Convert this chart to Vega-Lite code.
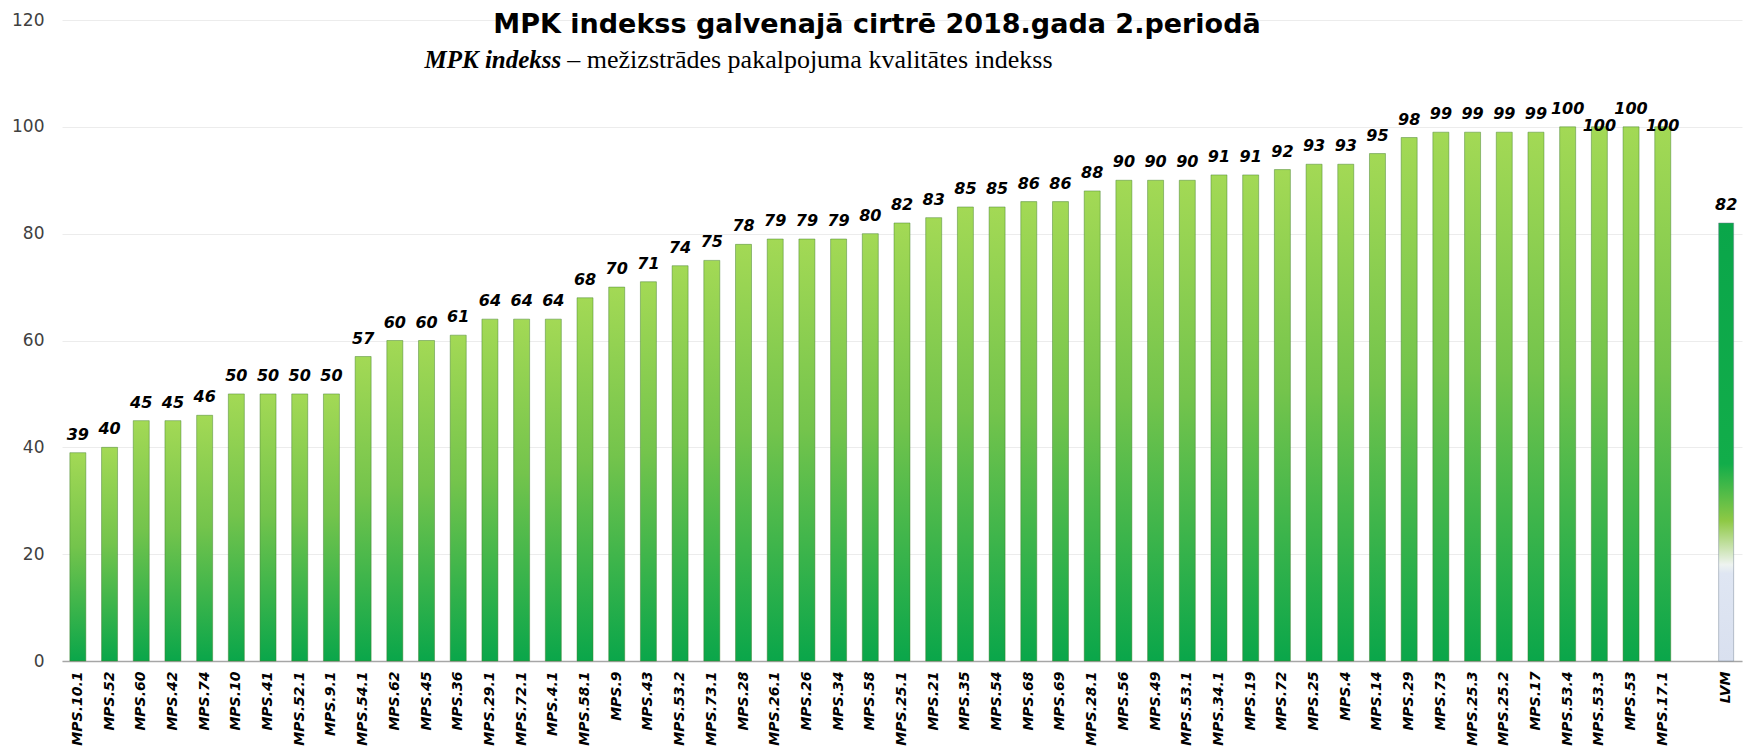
{
  "$schema": "https://vega.github.io/schema/vega-lite/v6.json",
  "width": 1680,
  "height": 641,
  "autosize": {"type": "none"},
  "padding": {"left": 62, "top": 20, "right": 2, "bottom": 89},
  "background": "#ffffff",
  "title": {
    "text": "MPK indekss galvenajā cirtrē 2018.gada 2.periodā",
    "font": "DejaVu Sans",
    "fontSize": 27,
    "fontWeight": "bold",
    "color": "#000000",
    "anchor": "middle",
    "dx": -25,
    "offset": -28
  },
  "config": {
    "view": {"stroke": null}
  },
  "data": {
    "values": [
      {"name": "MPS.10.1", "value": 39},
      {"name": "MPS.52", "value": 40},
      {"name": "MPS.60", "value": 45},
      {"name": "MPS.42", "value": 45},
      {"name": "MPS.74", "value": 46},
      {"name": "MPS.10", "value": 50},
      {"name": "MPS.41", "value": 50},
      {"name": "MPS.52.1", "value": 50},
      {"name": "MPS.9.1", "value": 50},
      {"name": "MPS.54.1", "value": 57},
      {"name": "MPS.62", "value": 60},
      {"name": "MPS.45", "value": 60},
      {"name": "MPS.36", "value": 61},
      {"name": "MPS.29.1", "value": 64},
      {"name": "MPS.72.1", "value": 64},
      {"name": "MPS.4.1", "value": 64},
      {"name": "MPS.58.1", "value": 68},
      {"name": "MPS.9", "value": 70},
      {"name": "MPS.43", "value": 71},
      {"name": "MPS.53.2", "value": 74},
      {"name": "MPS.73.1", "value": 75},
      {"name": "MPS.28", "value": 78},
      {"name": "MPS.26.1", "value": 79},
      {"name": "MPS.26", "value": 79},
      {"name": "MPS.34", "value": 79},
      {"name": "MPS.58", "value": 80},
      {"name": "MPS.25.1", "value": 82},
      {"name": "MPS.21", "value": 83},
      {"name": "MPS.35", "value": 85},
      {"name": "MPS.54", "value": 85},
      {"name": "MPS.68", "value": 86},
      {"name": "MPS.69", "value": 86},
      {"name": "MPS.28.1", "value": 88},
      {"name": "MPS.56", "value": 90},
      {"name": "MPS.49", "value": 90},
      {"name": "MPS.53.1", "value": 90},
      {"name": "MPS.34.1", "value": 91},
      {"name": "MPS.19", "value": 91},
      {"name": "MPS.72", "value": 92},
      {"name": "MPS.25", "value": 93},
      {"name": "MPS.4", "value": 93},
      {"name": "MPS.14", "value": 95},
      {"name": "MPS.29", "value": 98},
      {"name": "MPS.73", "value": 99},
      {"name": "MPS.25.3", "value": 99},
      {"name": "MPS.25.2", "value": 99},
      {"name": "MPS.17", "value": 99},
      {"name": "MPS.53.4", "value": 100},
      {"name": "MPS.53.3", "value": 100},
      {"name": "MPS.53", "value": 100},
      {"name": "MPS.17.1", "value": 100},
      {"name": " ", "value": null},
      {"name": "LVM", "value": 82}
    ]
  },
  "layer": [
    {
      "transform": [{"filter": "datum.name !== 'LVM'"}],
      "mark": {
        "type": "bar",
        "width": 16,
        "stroke": "#3f7d2a",
        "strokeOpacity": 0.45,
        "strokeWidth": 1,
        "color": {
          "gradient": "linear",
          "x1": 0, "y1": 0, "x2": 0, "y2": 1,
          "stops": [
            {"offset": 0, "color": "#a3d955"},
            {"offset": 0.45, "color": "#74c44c"},
            {"offset": 1, "color": "#0aa64a"}
          ]
        }
      },
      "encoding": {
        "x": {
          "field": "name",
          "type": "nominal",
          "scale": {
            "domain": ["MPS.10.1","MPS.52","MPS.60","MPS.42","MPS.74","MPS.10","MPS.41","MPS.52.1","MPS.9.1","MPS.54.1","MPS.62","MPS.45","MPS.36","MPS.29.1","MPS.72.1","MPS.4.1","MPS.58.1","MPS.9","MPS.43","MPS.53.2","MPS.73.1","MPS.28","MPS.26.1","MPS.26","MPS.34","MPS.58","MPS.25.1","MPS.21","MPS.35","MPS.54","MPS.68","MPS.69","MPS.28.1","MPS.56","MPS.49","MPS.53.1","MPS.34.1","MPS.19","MPS.72","MPS.25","MPS.4","MPS.14","MPS.29","MPS.73","MPS.25.3","MPS.25.2","MPS.17","MPS.53.4","MPS.53.3","MPS.53","MPS.17.1"," ","LVM"],
            "paddingInner": 0,
            "paddingOuter": 0
          },
          "axis": {
            "title": null,
            "labelAngle": -90,
            "labelFont": "DejaVu Sans",
            "labelFontSize": 14,
            "labelFontWeight": "bold",
            "labelFontStyle": "italic",
            "labelColor": "#000000",
            "labelPadding": 10,
            "ticks": false,
            "domainColor": "#a6a6a6",
            "domainWidth": 1.5
          }
        },
        "y": {
          "field": "value",
          "type": "quantitative",
          "scale": {"domain": [0, 120], "nice": false},
          "axis": {
            "title": null,
            "values": [0, 20, 40, 60, 80, 100, 120],
            "labelFont": "DejaVu Sans",
            "labelFontSize": 17,
            "labelColor": "#404040",
            "labelPadding": 18,
            "ticks": false,
            "domain": false,
            "gridColor": "#ececec",
            "gridWidth": 1
          }
        }
      }
    },
    {
      "transform": [{"filter": "datum.name === 'LVM'"}],
      "mark": {
        "type": "bar",
        "width": 15,
        "stroke": "#6f7f8f",
        "strokeOpacity": 0.45,
        "strokeWidth": 1,
        "color": {
          "gradient": "linear",
          "x1": 0, "y1": 0, "x2": 0, "y2": 1,
          "stops": [
            {"offset": 0, "color": "#0aa64a"},
            {"offset": 0.55, "color": "#12ad4a"},
            {"offset": 0.68, "color": "#8ec945"},
            {"offset": 0.78, "color": "#eef3f0"},
            {"offset": 0.8, "color": "#dfe6f3"},
            {"offset": 1, "color": "#d9e0ef"}
          ]
        }
      },
      "encoding": {
        "x": {"field": "name", "type": "nominal"},
        "y": {"field": "value", "type": "quantitative"}
      }
    },
    {
      "transform": [{"filter": "datum.name !== 'MPS.53.3' && datum.name !== 'MPS.17.1'"}],
      "mark": {
        "type": "text",
        "font": "DejaVu Sans",
        "fontSize": 16,
        "fontWeight": "bold",
        "fontStyle": "italic",
        "color": "#000000",
        "baseline": "alphabetic",
        "dy": -13
      },
      "encoding": {
        "x": {"field": "name", "type": "nominal"},
        "y": {"field": "value", "type": "quantitative"},
        "text": {"field": "value", "type": "quantitative"}
      }
    },
    {
      "transform": [{"filter": "datum.name === 'MPS.53.3' || datum.name === 'MPS.17.1'"}],
      "mark": {
        "type": "text",
        "font": "DejaVu Sans",
        "fontSize": 16,
        "fontWeight": "bold",
        "fontStyle": "italic",
        "color": "#000000",
        "baseline": "alphabetic",
        "dy": 4
      },
      "encoding": {
        "x": {"field": "name", "type": "nominal"},
        "y": {"field": "value", "type": "quantitative"},
        "text": {"field": "value", "type": "quantitative"}
      }
    },
    {
      "data": {"values": [{}]},
      "mark": {
        "type": "text",
        "text": "MPK indekss",
        "font": "Liberation Serif",
        "fontSize": 25,
        "fontWeight": "bold",
        "fontStyle": "italic",
        "color": "#000000",
        "align": "right",
        "baseline": "middle",
        "dx": 8
      },
      "encoding": {
        "x": {"datum": "MPS.4.1"},
        "y": {"datum": 112.5}
      }
    },
    {
      "data": {"values": [{}]},
      "mark": {
        "type": "text",
        "text": "– mežizstrādes pakalpojuma kvalitātes indekss",
        "font": "Liberation Serif",
        "fontSize": 26,
        "color": "#000000",
        "align": "left",
        "baseline": "middle",
        "dx": 14
      },
      "encoding": {
        "x": {"datum": "MPS.4.1"},
        "y": {"datum": 112.5}
      }
    }
  ]
}
